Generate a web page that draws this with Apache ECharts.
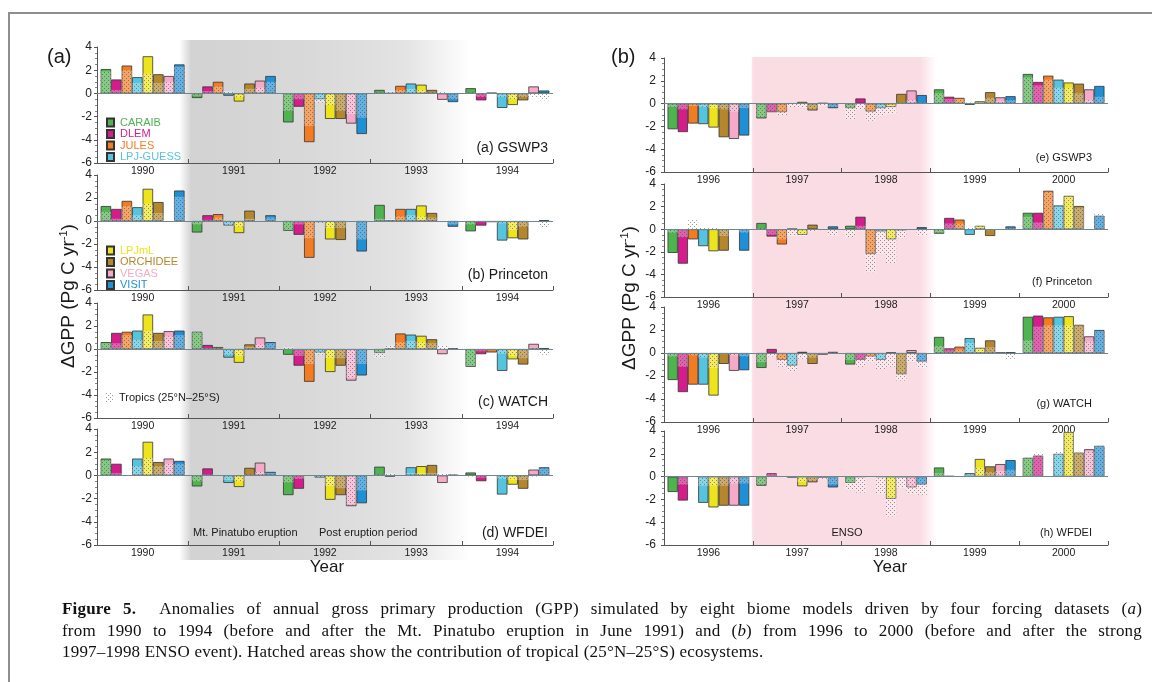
<!DOCTYPE html>
<html><head><meta charset="utf-8">
<script src="https://cdn.jsdelivr.net/npm/echarts@6/dist/echarts.min.js"></script>
<style>
html,body{margin:0;padding:0;background:#fff;}
#wrap{position:relative;width:1152px;height:682px;overflow:hidden;background:#fff;}
#chart{position:absolute;left:0;top:0;width:1152px;height:682px;}
#frame{position:absolute;left:8px;top:12px;width:1200px;height:700px;border-top:2px solid #8e8e8e;border-left:2px solid #8e8e8e;pointer-events:none;}
#cap{position:absolute;left:62px;top:598px;width:1080px;font-family:'Liberation Serif','Times New Roman',serif;font-size:17px;letter-spacing:0.2px;line-height:21.5px;color:#111;}
#cap .j{text-align:justify;text-align-last:justify;}
</style></head>
<body>
<div id="wrap">
<div id="chart"></div>
<div id="frame"></div>
<div id="cap">
<div class="j"><b>Figure 5.</b>&nbsp; Anomalies of annual gross primary production (GPP) simulated by eight biome models driven by four forcing datasets (<i>a</i>)</div>
<div class="j">from 1990 to 1994 (before and after the Mt. Pinatubo eruption in June 1991) and (<i>b</i>) from 1996 to 2000 (before and after the strong</div>
<div>1997–1998 ENSO event). Hatched areas show the contribution of tropical (25°N–25°S) ecosystems.</div>
</div>
</div>
<script>
// ---------------- DATA ----------------
const models = ['CARAIB','DLEM','JULES','LPJ-GUESS','LPJmL','ORCHIDEE','VEGAS','VISIT'];
const modelColors = ['#4fb34f','#d61c8c','#f37b21','#55c4df','#eee41c','#b5872d','#f5aaca','#1f8fd6'];
const yearsA = ['1990','1991','1992','1993','1994'];
const yearsB = ['1996','1997','1998','1999','2000'];
const yMin = -6, yMax = 4, yStep = 2;
const tropicsName = 'Tropics (25°N–25°S)';

// rows = models (CARAIB..VISIT), columns = years; null = model not run
const gswp3_A = [
 [2.1,-0.4,-2.5,0.3,0.45],[1.2,0.6,-1.15,0.02,-0.6],[2.4,1.0,-4.2,0.65,0.05],[1.4,-0.2,-0.5,0.85,-1.25],
 [3.2,-0.7,-2.2,0.75,-1.0],[1.65,0.85,-2.2,0.3,-0.6],[1.5,1.1,-2.6,-0.55,0.6],[2.5,1.5,-3.5,-0.75,0.25]];
const gswp3_A_trop = [
 [1.9,-0.2,-1.5,0.1,0.1],[0.3,0.2,-0.5,0.2,-0.3],[2.0,0.6,-2.8,0.3,0.05],[0.9,0.2,-0.8,0.4,-0.3],
 [1.7,-0.3,-1.0,0.3,-0.5],[0.9,0.4,-1.5,0.1,-0.3],[1.0,0.5,-1.8,0.1,-0.3],[2.3,1.0,-2.1,-0.5,-0.6]];
const princeton_A = [
 [1.3,-1.0,-0.85,1.4,-0.9],[1.05,0.5,-1.2,0.05,-0.4],[1.75,0.6,-3.2,1.05,-0.1],[1.2,-0.4,-0.1,1.05,-1.7],
 [2.8,-1.05,-1.6,1.35,-1.5],[1.65,0.9,-1.65,0.7,-1.6],[null,null,null,null,null],[2.65,0.5,-2.65,-0.5,0.05]];
const princeton_A_trop = [
 [0.8,-0.3,-0.8,0.2,-0.3],[0.2,0.1,-0.3,0.2,-0.1],[1.3,0.3,-1.5,0.4,-0.1],[0.5,-0.4,-0.2,0.5,-0.2],
 [1.5,-0.5,-0.6,0.4,-0.8],[0.7,0.2,-0.6,0.3,-0.5],[null,null,null,null,null],[2.1,0.3,-1.6,-0.3,-0.6]];
const watch_A = [
 [0.6,1.5,-0.5,-0.35,-1.55],[1.4,0.35,-1.45,0.02,-0.45],[1.5,0.17,-2.85,1.35,-0.3],[1.6,-0.75,-0.3,1.25,-1.9],
 [3.0,-1.2,-2.0,1.15,-0.9],[1.4,0.4,-1.45,0.85,-1.35],[1.55,1.0,-2.75,-0.45,0.45],[1.6,0.6,-2.3,0.05,0.05]];
const watch_A_trop = [
 [0.5,1.5,0.2,-0.8,-1.5],[0.5,0.1,-0.6,0.3,-0.2],[1.2,0.1,-1.3,0.6,-0.1],[0.8,-0.5,-0.5,0.7,-0.4],
 [1.6,-0.6,-0.8,0.6,-0.6],[0.7,0.2,-0.8,0.5,-0.8],[1.1,0.4,-2.5,0.3,0.1],[1.2,0.5,-1.3,0.05,-0.5]];
const wfdei_A = [
 [1.45,-0.95,-1.7,0.75,0.25],[1.0,0.6,-1.15,-0.1,-0.5],[null,null,null,null,null],[1.45,-0.65,-0.2,0.7,-1.65],
 [2.9,-1.0,-2.1,0.8,-0.8],[1.15,0.65,-1.7,0.9,-1.15],[1.45,1.1,-2.65,-0.65,0.5],[1.25,0.3,-2.4,0.05,0.7]];
const wfdei_A_trop = [
 [1.3,-0.5,-0.6,0.1,-0.1],[0.2,0.1,-0.3,0.2,-0.2],[null,null,null,null,null],[0.8,-0.4,-0.2,0.2,-0.3],
 [1.5,-0.5,-0.9,0.2,-0.4],[0.8,0.1,-1.1,0.2,-0.4],[1.0,0.3,-2.5,0.2,-0.1],[1.0,0.2,-1.3,0.1,0.6]];

const gswp3_B = [
 [-2.25,-1.3,-0.4,1.25,2.6],[-2.5,-0.75,0.45,0.6,1.9],[-1.75,-0.75,-0.7,0.5,2.45],[-1.8,0.02,-0.4,-0.1,2.1],
 [-2.1,0.15,-0.3,0.2,1.85],[-2.95,-0.6,0.85,1.0,1.75],[-3.1,0.05,1.15,0.55,1.25],[-2.8,-0.4,0.75,0.65,1.55]];
const gswp3_B_trop = [
 [-0.3,-1.2,-1.4,0.9,2.3],[-0.5,-0.7,-0.5,0.4,1.6],[-0.2,-1.0,-1.5,0.4,2.1],[-0.3,-0.3,-1.1,0.1,1.4],
 [-0.4,-0.4,-0.9,0.1,1.4],[-0.5,-0.5,0.1,0.5,0.9],[-0.7,-0.2,0.3,0.2,0.3],[-0.4,-0.3,0.1,0.3,0.6]];
const princeton_B = [
 [-2.1,0.55,0.3,-0.4,1.45],[-3.05,-0.65,1.1,1.0,1.45],[-0.9,-1.35,-2.2,0.85,3.4],[-1.5,0.02,-0.2,-0.5,2.1],
 [-1.95,-0.5,-0.9,0.3,2.95],[-1.9,0.4,-0.1,-0.6,2.05],[null,null,null,null,null],[-1.9,0.25,0.18,0.25,1.2]];
const princeton_B_trop = [
 [-0.3,0.1,-0.7,-0.3,1.1],[-0.7,-0.5,0.3,0.5,0.6],[0.8,-0.9,-3.8,0.5,3.3],[0.2,-0.6,-2.2,0.2,2.0],
 [0.2,-0.6,-3.0,0.3,2.9],[-0.6,-0.2,-0.8,-0.1,1.9],[null,null,null,null,null],[-0.3,-0.6,-0.6,0.1,1.4]];
const watch_B = [
 [-2.35,-1.3,-1.0,1.4,3.15],[-3.4,0.35,-0.6,0.4,3.25],[-2.75,-0.6,-0.3,0.55,3.1],[-2.75,-1.1,-0.6,1.3,3.15],
 [-3.7,0.1,0.02,0.45,3.2],[-0.95,-0.95,-1.85,1.1,2.45],[-1.55,-0.15,0.25,0.02,1.45],[-1.5,0.1,-0.75,0.05,2.0]];
const watch_B_trop = [
 [-0.3,-0.8,-0.6,0.6,1.1],[-1.2,-0.3,-1.2,0.3,2.3],[-0.2,-1.2,-0.8,0.3,2.4],[-0.4,-1.6,-1.4,0.9,2.4],
 [-1.3,-0.5,-1.2,0.4,2.4],[-0.1,-0.4,-2.4,0.5,2.4],[-0.2,-0.1,-0.8,0.0,1.0],[-0.3,0.05,-1.3,-0.5,1.9]];
const wfdei_B = [
 [-1.35,-0.8,-0.55,0.8,1.65],[-2.1,0.3,-0.02,0.05,1.85],[null,null,null,null,null],[-2.3,-0.1,-0.02,0.3,2.0],
 [-2.7,-0.85,-1.95,1.55,3.9],[-2.55,-0.5,-0.05,0.9,2.1],[-2.55,-0.1,-0.95,1.1,2.4],[-2.55,-0.95,-0.7,1.45,2.7]];
const wfdei_B_trop = [
 [0.1,-0.7,-1.2,0.3,1.6],[-0.7,0.25,-1.4,-0.1,2.1],[null,null,null,null,null],[-0.8,-0.1,-1.5,0.2,2.2],
 [-0.8,-0.5,-3.5,0.8,3.9],[-0.8,-0.4,-1.0,0.4,2.1],[-0.6,-0.2,-1.5,0.5,2.2],[-0.6,-0.7,-1.6,0.6,2.7]];

// ---------------- LAYOUT ----------------
const FONT = "'Liberation Sans', Arial, Helvetica, sans-serif";
const panels = [
 {years:yearsA, total:gswp3_A, trop:gswp3_A_trop, label:'(a) GSWP3', side:0, box:{left:97,width:456,top:47,height:116}},
 {years:yearsA, total:princeton_A, trop:princeton_A_trop, label:'(b) Princeton', side:0, box:{left:97,width:456,top:175,height:115}},
 {years:yearsA, total:watch_A, trop:watch_A_trop, label:'(c) WATCH', side:0, box:{left:97,width:456,top:303,height:115}},
 {years:yearsA, total:wfdei_A, trop:wfdei_A_trop, label:'(d) WFDEI', side:0, box:{left:97,width:456,top:429,height:116}},
 {years:yearsB, total:gswp3_B, trop:gswp3_B_trop, label:'(e) GSWP3', side:1, box:{left:664,width:444,top:58,height:114}},
 {years:yearsB, total:princeton_B, trop:princeton_B_trop, label:'(f) Princeton', side:1, box:{left:664,width:444,top:184,height:113}},
 {years:yearsB, total:watch_B, trop:watch_B_trop, label:'(g) WATCH', side:1, box:{left:664,width:444,top:307,height:115}},
 {years:yearsB, total:wfdei_B, trop:wfdei_B_trop, label:'(h) WFDEI', side:1, box:{left:664,width:444,top:431,height:114}}
];

function makeDots(){
  const c = document.createElement('canvas'); c.width = 4; c.height = 4;
  const g = c.getContext('2d');
  g.fillStyle = 'rgba(255,255,255,0.30)'; g.fillRect(0,0,4,4);
  g.fillStyle = 'rgba(70,70,70,0.55)';
  g.fillRect(0,0,1,1); g.fillRect(2,2,1,1);
  return c;
}
const tropFill = {image: makeDots(), repeat: 'repeat'};

const chart = echarts.init(document.getElementById('chart'));
const grid = [], xAxis = [], yAxis = [], series = [];
panels.forEach((p, i) => {
  grid.push(Object.assign({containLabel:false}, p.box));
  yAxis.push({type:'value', gridIndex:i, min:yMin, max:yMax, interval:yStep,
    axisLine:{show:true, lineStyle:{color:'#555', width:1}},
    axisTick:{show:true, length:3, lineStyle:{color:'#555'}},
    minorTick:{show:true, splitNumber:4, length:2, lineStyle:{color:'#888'}},
    splitLine:{show:false},
    axisLabel:{fontSize:12, color:'#222', fontFamily:FONT, margin: p.side ? 8 : 5}});
});
panels.forEach((p, i) => {
  xAxis.push({type:'category', gridIndex:i, data:p.years,
    axisLine:{onZero:false, lineStyle:{color:'#555', width:1}},
    axisTick:{show:true, inside:true, length:4, lineStyle:{color:'#555'}},
    axisLabel:{fontSize:10.5, color:'#222', fontFamily:FONT, margin:3},
    splitLine:{show:false}});
});
panels.forEach((p, i) => {
  xAxis.push({type:'category', gridIndex:i, data:p.years, show:false, axisLine:{onZero:false}});
});
panels.forEach((p, i) => {
  models.forEach((m, k) => {
    series.push({type:'bar', name:m, xAxisIndex:i, yAxisIndex:i, data:p.total[k],
      barGap:'0%', barCategoryGap:'8%', z:2,
      itemStyle:{color:modelColors[k], borderColor:'#333', borderWidth:0.8}});
  });
  models.forEach((m, k) => {
    const s = {type:'bar', name:tropicsName, xAxisIndex:8+i, yAxisIndex:i, data:p.trop[k],
      barGap:'0%', barCategoryGap:'8%', z:3,
      itemStyle:{color:tropFill, borderWidth:0}};
    if (k === models.length-1) {
      s.markLine = {silent:true, symbol:['none','none'], label:{show:false}, animation:false,
        lineStyle:{color:'#6d8893', width:1.2, type:'solid'}, data:[{yAxis:0}]};
    }
    series.push(s);
  });
});

const legendBase = {orient:'vertical', itemWidth:7, itemHeight:8, itemGap:0.5, padding:0,
  selectedMode:false, icon:'rect', textStyle:{fontSize:11, fontFamily:FONT, lineHeight:10, padding:[0,0,0,1]}};
const legend = [
  Object.assign({}, legendBase, {left:106, top:117,
    data: models.slice(0,4).map((n,i)=>({name:n, textStyle:{color:modelColors[i]}}))}),
  Object.assign({}, legendBase, {left:106, top:245,
    data: models.slice(4).map((n,i)=>({name:n, textStyle:{color:modelColors[i+4]}}))}),
  Object.assign({}, legendBase, {left:106, top:392, itemHeight:9,
    data:[{name:tropicsName, textStyle:{color:'#222'}}]})
];

chart.setOption({animation:false, backgroundColor:'transparent', grid, xAxis, yAxis, series, legend});

// ---------------- DECORATION (positions from the axes) ----------------
function px(xi, v){ return chart.convertToPixel({xAxisIndex:xi}, v); }
function py(yi, v){ return chart.convertToPixel({yAxisIndex:yi}, v); }
const bwA = px(0, yearsA[1]) - px(0, yearsA[0]);
const gL = px(0, yearsA[1]) - bwA/2, gR = px(0, yearsA[3]) + bwA/2;
const gx0 = gL - 9, gx1 = gR + 8, gw = gx1 - gx0;
const gy0 = py(0, yMax) - 7, gy1 = py(3, yMin) + 15;
const bwB = px(4, yearsB[1]) - px(4, yearsB[0]);
const pL = px(4, yearsB[1]) - bwB/2, pR = px(4, yearsB[2]) + bwB/2;
const px0 = pL - 1, px1 = pR + 6, pw = px1 - px0;
const py0 = py(4, yMax) - 1, py1 = py(7, yMin);

const graphics = [
  {type:'rect', z:-10, silent:true, shape:{x:gx0, y:gy0, width:gw, height:gy1-gy0},
   style:{fill:{type:'linear', x:0, y:0, x2:1, y2:0, colorStops:[
     {offset:0, color:'#ffffff'}, {offset:12/gw, color:'#d2d2d2'}, {offset:0.45, color:'#d9d9d9'},
     {offset:(gw-65)/gw, color:'#e3e3e3'}, {offset:1, color:'#ffffff'}]}}},
  {type:'rect', z:-10, silent:true, shape:{x:px0, y:py0, width:pw, height:py1-py0},
   style:{fill:{type:'linear', x:0, y:0, x2:1, y2:0, colorStops:[
     {offset:0, color:'#fbe7ec'}, {offset:3/pw, color:'#fadce3'}, {offset:(pw-16)/pw, color:'#fadde4'},
     {offset:1, color:'#ffffff'}]}}}
];
function T(x, y, text, size, extra){
  graphics.push({type:'text', x, y, z:10, silent:true, style:Object.assign({text, fontSize:size, fontFamily:FONT,
    fill:'#1a1a1a', align:'left', verticalAlign:'middle'}, extra||{})});
}
T(47, 57, '(a)', 20);
T(611, 57, '(b)', 20);
panels.forEach((p, i) => {
  const b = p.box;
  if (p.side === 0) T(b.left + b.width - 5, b.top + b.height - [15,15,16,12][i], p.label, 14, {align:'right'});
  else T(b.left + b.width - 16, b.top + b.height - [14,15,18,12][i-4], p.label, 11, {align:'right'});
});
T(193, 533, 'Mt. Pinatubo eruption', 11);
T(319, 533, 'Post eruption period', 11);
T(847, 533, 'ENSO', 11, {align:'center'});
T(327, 567, 'Year', 17, {align:'center'});
T(890, 567, 'Year', 17, {align:'center'});
[[69, 296], [630, 298]].forEach(([x, y]) => {
  graphics.push({type:'text', x, y, rotation:Math.PI/2, z:10, silent:true,
    style:{text:'{a|ΔGPP (Pg C yr}{s|-1}{a|)}', align:'center', verticalAlign:'middle', fill:'#1a1a1a',
      rich:{a:{fontSize:19, fontFamily:FONT, lineHeight:22, fill:'#1a1a1a'},
            s:{fontSize:11, fontFamily:FONT, lineHeight:22, verticalAlign:'top', fill:'#1a1a1a'}}}});
});
chart.setOption({graphic:{elements:graphics}});
</script>
</body></html>
